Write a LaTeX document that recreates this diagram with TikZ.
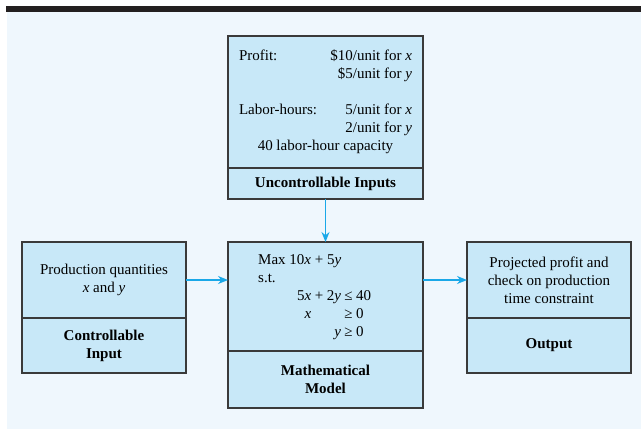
\documentclass[tikz,border=0pt]{standalone}
\usepackage{fontspec}
\setmainfont{Liberation Serif}
\usetikzlibrary{arrows.meta,positioning}
\definecolor{boxfill}{HTML}{C8E8F8}
\definecolor{pagefill}{HTML}{EFF7FD}
\definecolor{flowblue}{HTML}{1AA8E8}
\definecolor{rimgray}{HTML}{3A3A3A}
\definecolor{barblack}{HTML}{231F20}

\begin{document}
\begin{tikzpicture}[
	x=1pt, y=-1pt,
	font=\fontsize{15}{18}\selectfont,
	>=Stealth,
	upbox/.style={rectangle, draw=rimgray, fill=boxfill, line width=1.4pt, inner sep=0pt, outer sep=0pt, align=center},
	lowbox/.style={upbox, font=\fontsize{15}{18}\selectfont\bfseries},
	flow/.style={->, draw=flowblue, line width=1.6pt, >={Stealth[length=10pt,width=8pt]}}
]
\useasboundingbox (0,0) rectangle (641,429);

% --- Page: top rule and tinted panel ---
\fill[pagefill] (7,12) rectangle (641,429);
\fill[barblack] (6,6) rectangle (641,12);

% --- Top: uncontrollable inputs ---
\node[upbox, minimum width=195pt, minimum height=132pt] (inputs) at (325.5,102) {%
	\begin{tabular*}{173pt}{@{}l@{\extracolsep{\fill}}r@{}}
	Profit: & \$10/unit for \textit{x}\\
	        & \$5/unit for \textit{y}\\[18pt]
	Labor-hours: & 5/unit for \textit{x}\\
	             & 2/unit for \textit{y}\\
	\multicolumn{2}{c}{40 labor-hour capacity}
	\end{tabular*}};
\node[lowbox, minimum width=195pt, minimum height=31pt, below=0pt of inputs] (uncontrol) {Uncontrollable Inputs};

% --- Left: controllable input ---
\node[upbox, minimum width=164pt, minimum height=76pt] (quant) at (104,280) {Production quantities\\\textit{x} and \textit{y}};
\node[lowbox, minimum width=164pt, minimum height=55pt, below=0pt of quant] (control) {Controllable\\Input};

% --- Middle: mathematical model ---
\node[upbox, minimum width=195pt, minimum height=109pt] (model) at (325.5,296.5) {};
\node[anchor=west, inner sep=0pt] (modeltext) at (258,297) {%
	\begin{tabular}{@{}p{39pt}@{}r@{}c@{}r@{}c@{}l@{}}
	\multicolumn{6}{@{}l@{}}{Max 10\textit{x} + 5\textit{y}}\\
	\multicolumn{6}{@{}l@{}}{s.t.}\\
	& 5\textit{x} & \kern3.5pt+\kern3.5pt & 2\textit{y} & \kern3.5pt≤\kern3.5pt & 40\\
	& \textit{x} & & & \kern3.5pt≥\kern3.5pt & 0\\
	& & & \textit{y} & \kern3.5pt≥\kern3.5pt & 0
	\end{tabular}};
\node[lowbox, minimum width=195pt, minimum height=57pt, below=0pt of model] (mathmodel) {Mathematical\\Model};

% --- Right: output ---
\node[upbox, minimum width=164pt, minimum height=76pt] (outcome) at (549,280) {Projected profit and\\check on production\\time constraint};
\node[lowbox, minimum width=164pt, minimum height=55pt, below=0pt of outcome] (output) {Output};

% --- Edges ---
\draw[flow] (uncontrol.south) -- (model.north);
\draw[flow] (quant.east) -- (quant.east -| model.west);
\draw[flow] (model.east |- outcome.west) -- (outcome.west);

\end{tikzpicture}
\end{document}
